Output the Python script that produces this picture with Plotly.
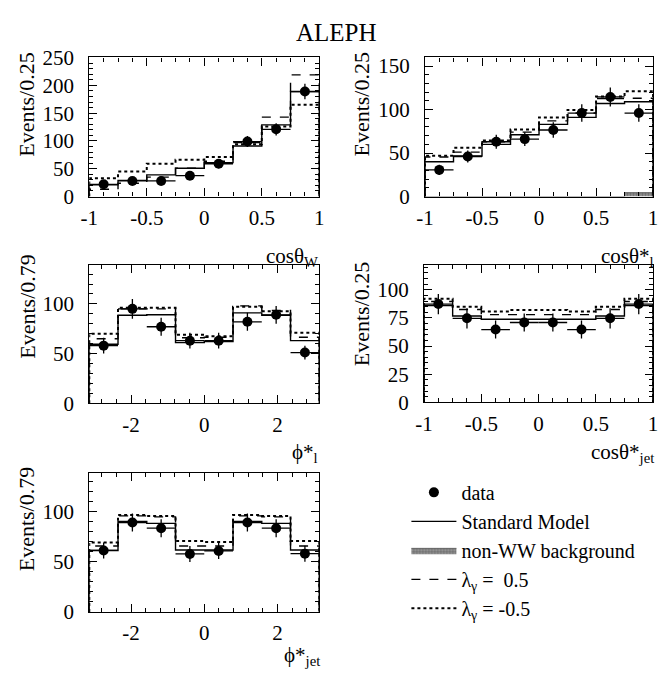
import plotly.graph_objects as go
import math

W, H = 661, 681

# ---------------- data ----------------
cos_edges = [-1.0, -0.75, -0.5, -0.25, 0.0, 0.25, 0.5, 0.75, 1.0]
cos_centers = [-0.875, -0.625, -0.375, -0.125, 0.125, 0.375, 0.625, 0.875]
phi_edges = [-math.pi + i * 2 * math.pi / 8 for i in range(9)]
phi_centers = [-math.pi + (i + 0.5) * 2 * math.pi / 8 for i in range(8)]

# panel 1: cos theta_W
p1_data = [22, 28, 28, 37.5, 59, 99, 121, 189]
p1_err = [5, 5, 5, 6, 8, 10, 11, 14]
p1_sm = [21, 29, 39, 51, 61, 91, 129, 189]
p1_lp = [13, 24, 35, 51, 63.5, 97, 143, 219]
p1_lm = [33, 45, 59, 66, 71, 94, 126, 165]

# panel 2: cos theta*_l
p2_data = [30.6, 46, 63, 66, 76.5, 96, 114.5, 96]
p2_err = [6, 7, 8, 8, 9, 10, 11, 10]
p2_sm = [40, 46.6, 60, 71, 83, 91, 107, 109]
p2_lp = [45.5, 51, 63, 74, 87, 96, 112.7, 113]
p2_lm = [47, 56, 64.5, 77, 91, 99.6, 115, 121]
p2_bkg = [0, 0, 0, 0, 0, 0, 0, 4.5]

# panel 3: phi*_l
p3_data = [58, 95, 77, 63, 63, 82, 89, 51]
p3_err = [8, 10, 9, 8, 8, 9, 9, 7]
p3_sm = [59.4, 88.6, 89, 61, 62, 91, 88.6, 63]
p3_lp = [65, 95, 95, 66, 66.5, 98, 93.5, 66.5]
p3_lm = [70, 96, 96, 69, 67.5, 97, 92.5, 71]

# panel 4: cos theta*_jet
p4_data = [87.4, 74.7, 64.7, 71, 71, 64.7, 74.7, 87.4]
p4_err = [9, 9, 8, 8, 8, 8, 9, 9]
p4_sm = [86, 76.7, 73.9, 73.9, 73.9, 73.9, 76.7, 86]
p4_lp = [89.7, 82.5, 78, 78, 78, 78, 82.5, 89.7]
p4_lm = [92, 85, 80.7, 82, 82, 80.7, 85, 92]

# panel 5: phi*_jet
p5_data = [61.5, 89.4, 83.7, 58, 61, 89.4, 83.7, 58.3]
p5_err = [8, 9, 9, 8, 8, 9, 9, 8]
p5_sm = [61.5, 90.4, 88.5, 62, 62, 90.4, 88.5, 62]
p5_lp = [66, 96, 95, 66, 66, 96, 95, 66]
p5_lm = [69.5, 97, 96, 71, 70, 97, 96, 71]

cos_tickvals = [-1, -0.5, 0, 0.5, 1]
cos_ticktext = ["-1", "-0.5", "0", "0.5", "1"]
phi_tickvals = [-2, 0, 2]
phi_ticktext = ["-2", "0", "2"]

FONT = "Liberation Serif, Times New Roman, serif"

def px(x):
    return x / W

def py(y):
    return 1 - y / H

fig = go.Figure()

panels = [
    dict(n=1, edges=cos_edges, centers=cos_centers, data=p1_data, err=p1_err, sm=p1_sm, lp=p1_lp, lm=p1_lm),
    dict(n=2, edges=cos_edges, centers=cos_centers, data=p2_data, err=p2_err, sm=p2_sm, lp=p2_lp, lm=p2_lm),
    dict(n=3, edges=phi_edges, centers=phi_centers, data=p3_data, err=p3_err, sm=p3_sm, lp=p3_lp, lm=p3_lm),
    dict(n=4, edges=cos_edges, centers=cos_centers, data=p4_data, err=p4_err, sm=p4_sm, lp=p4_lp, lm=p4_lm),
    dict(n=5, edges=phi_edges, centers=phi_centers, data=p5_data, err=p5_err, sm=p5_sm, lp=p5_lp, lm=p5_lm),
]

def ax(n):
    return ("x" if n == 1 else f"x{n}"), ("y" if n == 1 else f"y{n}")

for p in panels:
    xa, ya = ax(p["n"])
    first = p["n"] == 1
    edges = p["edges"]
    hw = (edges[1] - edges[0]) / 2
    xs = [edges[0]] + edges
    if p["n"] == 2:
        fig.add_trace(go.Scatter(x=xs, y=[0] + p2_bkg + [0], mode="lines", xaxis=xa, yaxis=ya,
                                 line=dict(color="#555", width=0.8, shape="hv"),
                                 fill="tozeroy", fillcolor="#8a8a8a",
                                 fillpattern=dict(shape=".", fgcolor="#333", bgcolor="#9e9e9e", size=3, solidity=0.5),
                                 name="non-WW background", showlegend=True, legendrank=3))
    for key, dash, width, name, rank in [("sm", "solid", 1.4, "Standard Model", 2),
                                         ("lp", "dash", 1.4, "λ<sub>γ</sub> =  0.5", 4),
                                         ("lm", "dot", 2.0, "λ<sub>γ</sub> = -0.5", 5)]:
        ys = [0] + p[key] + [0]
        fig.add_trace(go.Scatter(x=xs, y=ys, mode="lines", line=dict(color="black", width=width, dash=dash, shape="hv"),
                                 xaxis=xa, yaxis=ya, name=name, showlegend=first, legendrank=rank))
    fig.add_trace(go.Scatter(x=p["centers"], y=p["data"], mode="markers", xaxis=xa, yaxis=ya,
                             marker=dict(color="black", size=10),
                             error_y=dict(type="data", array=p["err"], color="black", thickness=1.3, width=0),
                             error_x=dict(type="data", array=[hw] * 8, color="black", thickness=1.3, width=0),
                             name="data", showlegend=first, legendrank=1))

# axes layout
boxes = {
    1: (82, 317, 48, 192),
    2: (425, 658, 48, 192),
    3: (82, 317, 263, 406),
    4: (424, 658, 263, 405),
    5: (82, 317, 478, 622),
}
yranges = {1: [0, 250.5], 2: [0, 160], 3: [0, 139], 4: [0, 122], 5: [0, 139]}
ymajor = {1: 50, 2: 50, 3: 50, 4: 25, 5: 50}
yminor = {1: 10, 2: 10, 3: 10, 4: 5, 5: 10}
is_phi = {1: False, 2: False, 3: True, 4: False, 5: True}

def common():
    return dict(showline=True, linecolor="black", linewidth=1.3, mirror="allticks", ticks="inside",
                ticklen=8, tickwidth=1, tickcolor="black", showgrid=False, zeroline=False,
                tickfont=dict(family=FONT, size=21, color="black"))

for n, (x0, x1, y0, y1) in boxes.items():
    xk = "xaxis" if n == 1 else f"xaxis{n}"
    yk = "yaxis" if n == 1 else f"yaxis{n}"
    ya = "y" if n == 1 else f"y{n}"
    xa = "x" if n == 1 else f"x{n}"
    if is_phi[n]:
        xcfg = dict(range=[-math.pi, math.pi], tickvals=phi_tickvals, ticktext=phi_ticktext,
                    minor=dict(ticks="inside", ticklen=4, tick0=0, dtick=0.4, tickcolor="black", showgrid=False))
    else:
        xcfg = dict(range=[-1, 1], tickvals=cos_tickvals, ticktext=cos_ticktext,
                    minor=dict(ticks="inside", ticklen=4, tick0=0, dtick=0.125, tickcolor="black", showgrid=False))
    fig.layout[xk] = dict(domain=[px(x0), px(x1)], anchor=ya, ticklabelstandoff=2, **xcfg, **common())
    fig.layout[yk] = dict(domain=[py(y1), py(y0)], anchor=xa, range=yranges[n], tick0=0, dtick=ymajor[n],
                          ticklabelstandoff=10,
                          minor=dict(ticks="inside", ticklen=4, tick0=0, dtick=yminor[n], tickcolor="black", showgrid=False),
                          **common())

annotations = []
annotations.append(dict(text="ALEPH", x=px(335), y=py(22), xref="paper", yref="paper", showarrow=False,
                        font=dict(family=FONT, size=25, color="black"), xanchor="center", yanchor="middle"))

xtitles = [
    ("cosθ<sub>W</sub>", 318, 255),
    ("cosθ*<sub>l</sub>", 661, 255),
    ("ϕ*<sub>l</sub>", 318, 457),
    ("cosθ*<sub>jet</sub>", 661, 457),
    ("ϕ*<sub>jet</sub>", 320, 668),
]
for t, x, y in xtitles:
    annotations.append(dict(text=t, x=px(x), y=py(y), xref="paper", yref="paper", showarrow=False,
                            font=dict(family=FONT, size=21, color="black"), xanchor="right", yanchor="middle"))

ytitles = [
    ("Events/0.25", 18, 40),
    ("Events/0.25", 360, 40),
    ("Events/0.79", 18, 249),
    ("Events/0.25", 360, 257),
    ("Events/0.79", 18, 469),
]
for t, x, y in ytitles:
    annotations.append(dict(text=t, x=px(x), y=py(y), xref="paper", yref="paper", showarrow=False, textangle=-90,
                            font=dict(family=FONT, size=22, color="black"), xanchor="center", yanchor="top"))

fig.update_layout(
    width=W, height=H, margin=dict(l=0, r=0, t=0, b=0),
    paper_bgcolor="white", plot_bgcolor="white",
    annotations=annotations,
    legend=dict(x=px(406), y=py(478), xanchor="left", yanchor="top", bgcolor="rgba(0,0,0,0)",
                font=dict(family=FONT, size=20, color="black"), itemwidth=45, tracegroupgap=0,
                traceorder="normal"),
    font=dict(family=FONT, color="black"),
)

fig.write_html("out.html")
